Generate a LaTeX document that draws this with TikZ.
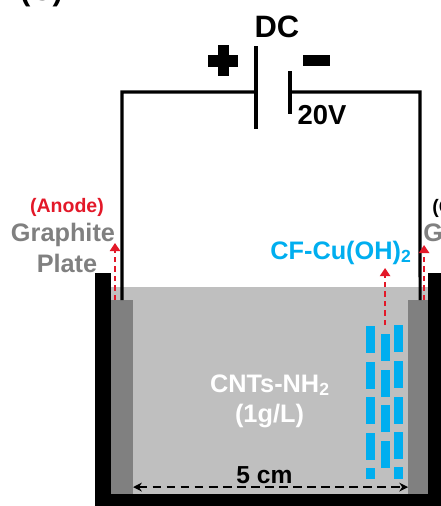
\documentclass[tikz,border=0pt]{standalone}
\usepackage{fontspec}
\setmainfont{Liberation Sans}
\usetikzlibrary{arrows.meta}
\definecolor{fibre}{RGB}{0,174,239}
\definecolor{plate}{RGB}{128,128,128}
\definecolor{anode}{RGB}{227,24,40}
\definecolor{bathgrey}{RGB}{191,191,191}
\tikzset{
	wire/.style={line width=1.8pt,black},
	flux/.style={line width=0.7pt,anode,dash pattern=on 3pt off 2.4pt,-{Triangle[length=4.6pt,width=6pt]}},
	gap/.style={line width=0.8pt,black,dash pattern=on 5pt off 3pt,{Stealth[length=5pt,width=5pt]}-{Stealth[length=5pt,width=5pt]}},
	lbl/.style={font=\fontsize{#1}{#1}\selectfont\bfseries,anchor=base,inner sep=0pt}
}
\begin{document}
\begin{tikzpicture}[xscale=0.02,yscale=-0.02]
	\useasboundingbox	(0,0) rectangle (441,506);

	% tank and bath
	\fill[black]		(95,273) rectangle (111,506);
	\fill[black]		(428,273) rectangle (441,506);
	\fill[black]		(95,494) rectangle (441,506);
	\fill[bathgrey]		(111,287) rectangle (428,494);
	\fill[plate]		(111,300) rectangle (133,494);
	\fill[plate]		(408,300) rectangle (428,494);

	% source
	\coordinate (platea) at (256,92);
	\coordinate (plateb) at (290,92);
	\coordinate (anodeend) at (122,300);
	\coordinate (cathodeend) at (420,300);
	\draw[wire]			(256,46) -- (256,129);
	\draw[wire]			(290,71) -- (290,114);
	\draw[wire]			(platea) -- (122,92) -- (anodeend);
	\draw[wire]			(plateb) -- (420,92) -- (cathodeend);
	\fill[black]		(218,45) rectangle (229,76);
	\fill[black]		(208,55) rectangle (238,67);
	\fill[black]		(303,55) rectangle (330,66);

	% fibres
	\foreach \y in {326,362,397,433}
		\fill[fibre]	(366,\y) rectangle +(9,26.5);
	\foreach \y in {334,370,405,441}
		\fill[fibre]	(381,\y) rectangle +(9,26.5);
	\foreach \y in {325,361,397,432}
		\fill[fibre]	(394,\y) rectangle +(9,26.5);
	\fill[fibre]		(366,468) rectangle (375,479);
	\fill[fibre]		(394,467) rectangle (403,479);

	% arrows
	\coordinate (anodefoot) at (115,300);
	\coordinate (anodehead) at (115,243);
	\coordinate (cathodefoot) at (424,300);
	\coordinate (cathodehead) at (424,245);
	\coordinate (fibrefoot) at (385,325);
	\coordinate (fibrehead) at (385,268);
	\coordinate (gapleft) at (133,487);
	\coordinate (gapright) at (408,487);
	\draw[flux]			(anodefoot) -- (anodehead);
	\draw[flux]			(cathodefoot) -- (cathodehead);
	\draw[flux]			(fibrefoot) -- (fibrehead);
	\draw[gap]			(gapleft) -- (gapright);

	% labels
	\node[lbl=17.6pt] (panel) at (41.5,0.5) {(C)};
	\node[lbl=17.6pt] (source) at (277,37) {DC};
	\node[lbl=15.6pt] (volt) at (322,124) {20V};
	\node[lbl=11.1pt,text=anode] (anodelbl) at (67,212) {(Anode)};
	\node[lbl=14.4pt,text=plate] (platelbl) at (63,241) {Graphite};
	\node[lbl=14.4pt,text=plate] (platelblb) at (67,272) {Plate};
	\node[lbl=11.1pt,anchor=base west] (cathodelbl) at (432,213) {(C};
	\node[lbl=14.4pt,text=plate,anchor=base west] (platelblc) at (423,241) {G};
	\node[lbl=14.4pt,text=fibre,anchor=base west] (fibrelbl) at (270,259) {CF-Cu(OH)\textsubscript{2}};
	\node[lbl=14.4pt,text=white] (bath) at (270,392) {CNTs-NH\textsubscript{2}};
	\node[lbl=14.4pt,text=white] (conc) at (269.5,422) {(1g/L)};
	\node[lbl=14pt] (gaplbl) at (264.5,483) {5 cm};
\end{tikzpicture}
\end{document}
